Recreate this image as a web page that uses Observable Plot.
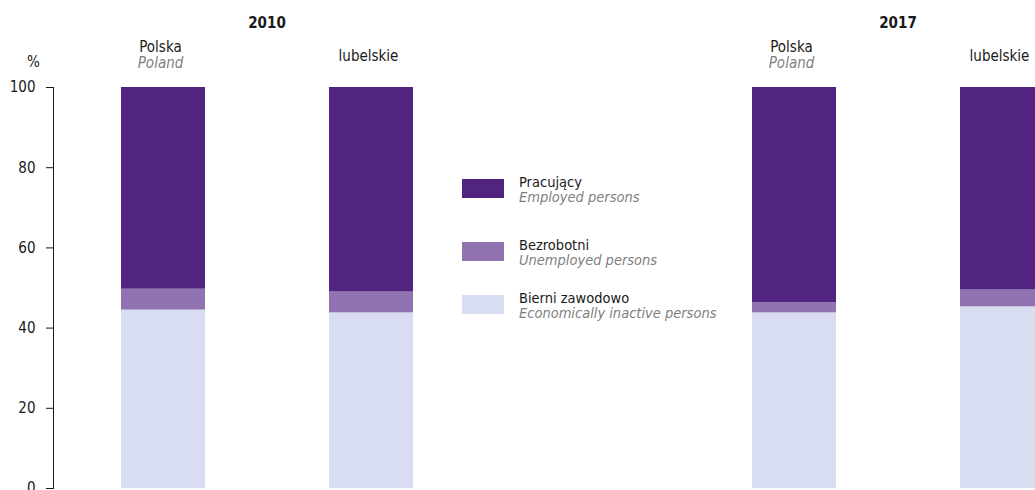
<!DOCTYPE html>
<html><head><meta charset="utf-8">
<script src="https://cdn.jsdelivr.net/npm/d3@7"></script>
<script src="https://cdn.jsdelivr.net/npm/@observablehq/plot@0.6"></script>
<style>
html,body{margin:0;padding:0;background:#fff;overflow:hidden;}
#wrap{position:relative;width:1035px;height:490px;overflow:hidden;font-family:"Liberation Sans Narrow","Arial Narrow","DejaVu Sans Condensed",sans-serif;color:#1a1a1a;}
#chart svg{display:block;}
g[aria-label="fx-axis tick label"]{font-weight:bold;font-size:15px;}
.pct{position:absolute;left:27px;top:53px;font-size:15px;}
.lg-item{position:absolute;left:462px;}
.lg-sw{position:absolute;left:0;width:42px;height:19px;}
.lg-tx{position:absolute;left:57px;white-space:nowrap;font-size:14.5px;line-height:15px;}
.lg-tx i{color:#7f7f7f;display:block;}
</style></head>
<body>
<div id="wrap"><div id="chart"></div><span class="pct">%</span><div id="legend"></div></div>
<script>
const years = ["2010", "2017"];
const regions = ["Polska", "lubelskie"];
const regionsEn = ["Poland", ""];
const groups = ["Bierni zawodowo", "Bezrobotni", "Pracujący"];
const groupsEn = ["Economically inactive persons", "Unemployed persons", "Employed persons"];
const colors = ["#d9ddf1", "#9073b0", "#51247f"];
// order: 2010 Polska, 2010 lubelskie, 2017 Polska, 2017 lubelskie
const inactive = [44.5, 43.8, 43.8, 45.3];
const unemployed = [5.2, 5.2, 2.5, 4.2];
const employed = [50.3, 51.0, 53.7, 50.5];
const yTicks = [0, 20, 40, 60, 80, 100];

const FONT = '"Liberation Sans Narrow","Arial Narrow","DejaVu Sans Condensed",sans-serif';
const series = [inactive, unemployed, employed];
const rows = [];
const labels = [];
years.forEach((year, yi) => {
  regions.forEach((region, ri) => {
    const idx = yi * 2 + ri;
    groups.forEach((g, gi) => rows.push({year, region, group: g, value: series[gi][idx]}));
    labels.push({year, region, pl: region, en: regionsEn[ri]});
  });
});

const chart = Plot.plot({
  width: 1035, height: 490,
  marginLeft: 53, marginRight: -76, marginTop: 87, marginBottom: 2,
  style: {fontFamily: FONT, fontSize: "15px", color: "#1a1a1a", background: "transparent"},
  fx: {domain: years, paddingInner: 0.3233, paddingOuter: 0, axis: "top", label: null, tickSize: 0, tickPadding: 60},
  x: {domain: regions, paddingInner: 0.598, paddingOuter: 0.3206, axis: null},
  y: {domain: [0, 100], ticks: yTicks, tickSize: 7, tickPadding: 11, label: null, line: true},
  color: {domain: groups, range: colors},
  marks: [
    Plot.barY(rows, {fx: "year", x: "region", y: "value", fill: "group"}),
    Plot.text(labels.filter(d => d.en !== ""), {fx: "year", x: "region", y: 100, text: "pl", dy: -40.5, dx: -3, fontSize: 15, fill: "#1a1a1a"}),
    Plot.text(labels.filter(d => d.en !== ""), {fx: "year", x: "region", y: 100, text: "en", dy: -24, dx: -3, fontSize: 15, fontStyle: "italic", fill: "#7f7f7f"}),
    Plot.text(labels.filter(d => d.en === ""), {fx: "year", x: "region", y: 100, text: "pl", dy: -31, dx: -3, fontSize: 15, fill: "#1a1a1a"})
  ]
});
document.getElementById("chart").appendChild(chart);

// legend (top to bottom: employed, unemployed, inactive)
const lgTops = [179, 242, 295];
const legend = document.getElementById("legend");
[2, 1, 0].forEach((gi, k) => {
  const item = document.createElement("div");
  item.className = "lg-item";
  item.style.top = lgTops[k] + "px";
  const sw = document.createElement("div");
  sw.className = "lg-sw";
  sw.style.background = colors[gi];
  const tx = document.createElement("div");
  tx.className = "lg-tx";
  tx.style.top = "-4px";
  const s1 = document.createElement("span"); s1.textContent = groups[gi];
  const s2 = document.createElement("i"); s2.textContent = groupsEn[gi];
  tx.appendChild(s1); tx.appendChild(s2);
  item.appendChild(sw); item.appendChild(tx);
  legend.appendChild(item);
});
</script>
</body></html>
